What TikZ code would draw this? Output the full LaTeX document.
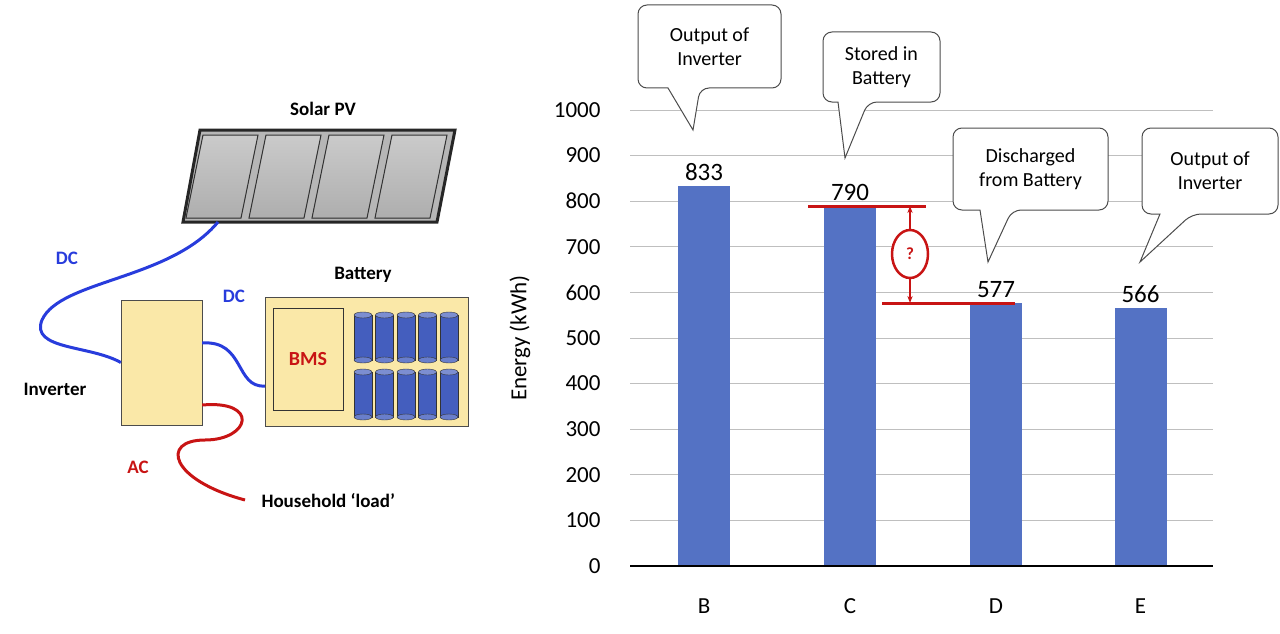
\documentclass[tikz,border=0pt]{standalone}
\usepackage{fontspec}
\setmainfont{Carlito}
\usetikzlibrary{arrows.meta, positioning, shapes.geometric}
\definecolor{barblue}{RGB}{84,114,196}
\definecolor{cellblue}{RGB}{68,94,190}
\definecolor{boxyellow}{RGB}{250,232,168}
\definecolor{pvgray}{RGB}{150,150,150}
\definecolor{wirered}{RGB}{200,20,20}
\definecolor{wireblue}{RGB}{40,60,220}
\tikzset{
  lbl/.style={font=\fontsize{19}{19}\selectfont\bfseries},
  tick/.style={font=\fontsize{23}{23}\selectfont, anchor=east},
  val/.style={font=\fontsize{25}{25}\selectfont, anchor=south},
  note/.style={font=\fontsize{20}{24}\selectfont, align=center},
  bar/.style={fill=barblue, draw=none},
  grid/.style={draw=black!25, line width=1pt},
  bubble/.style={draw=black!70, fill=white, line width=1pt}
}
% callout: x1 y1 x2 y2 tail-left tail-right tip-x tip-y
\newcommand{\bubblebox}[9]{%
  \draw[bubble, rounded corners=9pt] (#1,#2) -- (#3,#2) -- (#3,#4) -- (#6,#4)
    [sharp corners] -- (#7,#8) -- (#5,#4) [rounded corners=9pt] -- (#1,#4) -- cycle;
  \node[note] (#9) at ({(#1+#3)/2},{(#2+#4)/2}) {};}
\begin{document}
\begin{tikzpicture}[x=1pt, y=-1pt]
  \useasboundingbox (0,0) rectangle (1280,634);
  % ---- left: system
  \fill[pvgray!70] (200,130) -- (455,130) -- (437,222) -- (183,222) -- cycle;
  \foreach \a in {0,1,2,3} {
    \fill[top color=pvgray!50, bottom color=pvgray!110!black!90, draw=black!80, line width=1pt]
      ({203+\a*63},135) -- ({258+\a*63},135) -- ({241+\a*63},218) -- ({186+\a*63},218) -- cycle;
  }
  \draw[black!85, line width=3pt] (200,130) -- (455,130) -- (437,222) -- (183,222) -- cycle;
  \node[lbl] (pv) at (323,109) {Solar PV};
  \coordinate (pvout) at (218,222);
  \node[draw=black!70, fill=boxyellow, minimum width=81pt, minimum height=125pt, inner sep=0pt] (inv) at (161.5,362.5) {};
  \node[lbl] (invlbl) at (55,389) {Inverter};
  \node[draw=black!70, fill=boxyellow, minimum width=203pt, minimum height=129pt, inner sep=0pt] (bat) at (366.5,361.5) {};
  \node[lbl] (batlbl) at (363,275) {Battery};
  \node[draw=black!80, minimum width=70pt, minimum height=102pt, inner sep=0pt, font=\fontsize{20}{20}\selectfont\bfseries, text=wirered] (bms) at (308,359) {BMS};
  \foreach \r/\yy in {0/310,1/367} \foreach \c in {0,...,4} {
    \fill[cellblue, draw=black!80] ({354+\c*21.5},{\yy+5}) rectangle ({372+\c*21.5},{\yy+50});
    \draw[black!80, fill=cellblue!80] ({363+\c*21.5},{\yy+50}) ellipse (9pt and 3pt);
    \draw[black!80, fill=cellblue!70] ({363+\c*21.5},{\yy+5}) ellipse (9pt and 3pt);
  }
  \draw[wireblue, line width=3pt] (pvout) .. controls (170,280) and (60,280) .. (42,320)
    .. controls (30,350) and (90,345) .. (inv.west);
  \node[lbl, text=wireblue] (dc1) at (67,258) {DC};
  \draw[wireblue, line width=3pt] (inv.east |- 0,343) .. controls (245,340) and (235,388) .. (bat.west |- 0,386);
  \node[lbl, text=wireblue] (dc2) at (234,296) {DC};
  \coordinate (load) at (245,500);
  \draw[wirered, line width=3pt] (inv.east |- 0,405) .. controls (260,400) and (250,440) .. (205,440)
    .. controls (160,440) and (170,480) .. (load);
  \node[lbl, text=wirered] (ac) at (138,467) {AC};
  \node[lbl, anchor=west] (loadlbl) at (258,501) {Household ‘load’};
  % ---- right: chart
  \foreach \v in {100,200,...,1000} \draw[grid] (630,{566-0.456*\v}) -- (1213,{566-0.456*\v});
  \foreach \v in {0,100,...,1000} \node[tick] at (604,{566-0.456*\v}) {\v};
  \node[rotate=90, font=\fontsize{23}{23}\selectfont] (ylbl) at (520,338) {Energy (kWh)};
  \foreach \n/\xc/\v in {B/704/833, C/850/790, D/996/577, E/1140.5/566} {
    \fill[bar] ({\xc-26},566) rectangle ({\xc+26},{566-0.456*\v});
    \node[val] (v\n) at (\xc,{566-0.456*\v-2}) {\v};
    \node[font=\fontsize{23}{23}\selectfont] (c\n) at (\xc,606) {\n};
  }
  \draw[black, line width=2.5pt] (630,566) -- (1213,566);
  % difference marker
  \coordinate (hi) at (910,206);
  \coordinate (lo) at (910,303);
  \draw[wirered, line width=3pt] (808,206) -- (926,206);
  \draw[wirered, line width=3pt] (882,303) -- (1015,303);
  \draw[wirered, line width=2pt, {Stealth[length=7pt]}-{Stealth[length=7pt]}] (hi) -- (lo);
  \node[draw=wirered, fill=white, line width=2.5pt, ellipse, minimum width=36pt, minimum height=48pt, inner sep=0pt,
    text=wirered, font=\fontsize{17}{17}\selectfont\bfseries] (q) at (910,254) {?};
  % callouts
  \bubblebox{638}{5}{781}{88}{668}{700}{693}{130}{n1}
  \node[note] at (n1) {Output of\\Inverter};
  \bubblebox{823}{32}{940}{102}{838}{868}{845}{158}{n2}
  \node[note] at (n2) {Stored in\\Battery};
  \bubblebox{953}{128}{1108}{210}{980}{1012}{988}{262}{n3}
  \node[note] at (n3) {Discharged\\from Battery};
  \bubblebox{1142}{128}{1278}{214}{1160}{1192}{1140}{262}{n4}
  \node[note] at (n4) {Output of\\Inverter};
\end{tikzpicture}
\end{document}
